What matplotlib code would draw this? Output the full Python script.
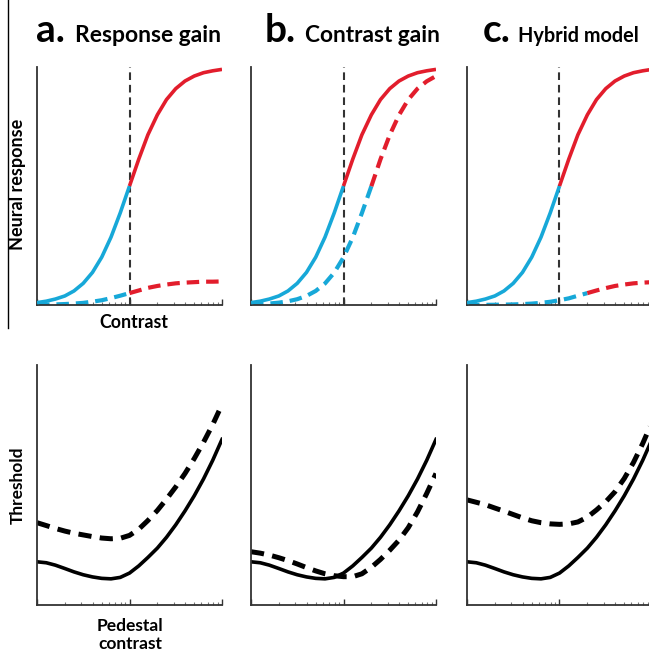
import matplotlib.pyplot as plt
from matplotlib.lines import Line2D

# contraste (eixo x em log, 0.01 a 1)
contrast = [0.01, 0.0126, 0.0158, 0.02, 0.0251, 0.0316, 0.0398, 0.0501, 0.0631, 0.0794,
            0.1, 0.126, 0.158, 0.2, 0.251, 0.316, 0.398, 0.501, 0.631, 0.794, 1.0]
pedestal = 0.1      # linha vertical tracejada
troca_base = 0.1    # contraste onde a cor passa de ciano para vermelho
troca_desloc = 0.2

# resposta neural (linha de cima)
resp_base = [0.010, 0.016, 0.025, 0.038, 0.059, 0.091, 0.137, 0.201, 0.285, 0.387, 0.500,
             0.613, 0.715, 0.799, 0.863, 0.909, 0.941, 0.962, 0.976, 0.984, 0.990]
resp_rgain = [0.001, 0.002, 0.0025, 0.004, 0.006, 0.009, 0.014, 0.020, 0.029, 0.039, 0.050,
              0.061, 0.072, 0.080, 0.086, 0.091, 0.094, 0.096, 0.098, 0.098, 0.099]
resp_cgain = [0.0025, 0.0039, 0.0062, 0.0099, 0.0155, 0.0244, 0.0381, 0.0591, 0.0905, 0.136, 0.200,
              0.284, 0.386, 0.499, 0.612, 0.714, 0.798, 0.863, 0.909, 0.940, 0.962]
resp_hybrid = [0.0003, 0.0004, 0.0006, 0.001, 0.0016, 0.0024, 0.0038, 0.0059, 0.0091, 0.0136, 0.020,
               0.028, 0.039, 0.050, 0.061, 0.071, 0.080, 0.086, 0.091, 0.094, 0.096]

# limiar (linha de baixo)
thr_base = [0.180, 0.176, 0.166, 0.152, 0.138, 0.126, 0.117, 0.111, 0.109, 0.115, 0.133,
            0.163, 0.198, 0.237, 0.282, 0.334, 0.392, 0.455, 0.525, 0.603, 0.690]
thr_rgain = [0.343, 0.331, 0.319, 0.308, 0.299, 0.292, 0.285, 0.279, 0.276, 0.278, 0.290,
             0.316, 0.352, 0.394, 0.441, 0.492, 0.548, 0.610, 0.678, 0.752, 0.835]
thr_cgain = [0.222, 0.216, 0.208, 0.197, 0.185, 0.171, 0.156, 0.142, 0.130, 0.122, 0.118,
             0.118, 0.130, 0.157, 0.190, 0.228, 0.270, 0.322, 0.388, 0.465, 0.548]
thr_hybrid = [0.438, 0.428, 0.418, 0.404, 0.391, 0.377, 0.363, 0.351, 0.343, 0.338, 0.336,
              0.338, 0.346, 0.366, 0.396, 0.430, 0.472, 0.527, 0.594, 0.673, 0.762]

letras = ['a.', 'b.', 'c.']
titulos = ['Response gain', 'Contrast gain', 'Hybrid model']

CIANO = '#17a8d8'
VERMELHO = '#e21d2c'
CINZA = '#333333'

plt.rcParams['font.family'] = ['Lato', 'DejaVu Sans']
plt.rcParams['lines.scale_dashes'] = False

W, H = 649, 657
fig = plt.figure(figsize=(W / 100, H / 100), dpi=100)


def caixa(x0, y_topo, y_base, largura=185):
    return [x0 / W, 1 - y_base / H, largura / W, (y_base - y_topo) / H]


def estilo_eixo(ax, ymax):
    ax.set_xscale('log')
    ax.set_xlim(0.01, 1)
    ax.set_ylim(0, ymax)
    for lado in ['top', 'right']:
        ax.spines[lado].set_visible(False)
    for lado in ['left', 'bottom']:
        ax.spines[lado].set_color(CINZA)
        ax.spines[lado].set_linewidth(1.3)
    ax.set_yticks([])
    ax.tick_params(axis='x', which='major', direction='in', length=4, width=1, color=CINZA, labelbottom=False)
    ax.tick_params(axis='x', which='minor', direction='in', length=2, width=0.8, color='#777777', labelbottom=False)


def curva_colorida(ax, c, r, c_troca, **estilo):
    i = c.index(c_troca)
    ax.plot(c[:i + 1], r[:i + 1], color=CIANO, **estilo)
    ax.plot(c[i:], r[i:], color=VERMELHO, **estilo)


solido = dict(lw=2.6, solid_capstyle='butt', solid_joinstyle='round')
tracejado = dict(lw=3.0, dashes=(9, 5), dash_capstyle='butt')

respostas = [(resp_rgain, troca_base), (resp_cgain, troca_desloc), (resp_hybrid, troca_desloc)]
limiares = [thr_rgain, thr_cgain, thr_hybrid]
esquerdas = [37, 251, 467]

for k in range(3):
    # painel de cima: resposta neural
    ax = fig.add_axes(caixa(esquerdas[k], 67, 305))
    estilo_eixo(ax, 1.0)
    ax.axvline(pedestal, color=CINZA, lw=1.5, dashes=(5.5, 3.5), zorder=1)
    r_tr, c_tr = respostas[k]
    curva_colorida(ax, contrast, r_tr, c_tr, zorder=2, **tracejado)
    curva_colorida(ax, contrast, resp_base, troca_base, zorder=3, **solido)

    # painel de baixo: limiar
    ax2 = fig.add_axes(caixa(esquerdas[k], 365, 605))
    estilo_eixo(ax2, 1.0)
    ax2.plot(contrast, thr_base, color='black', lw=2.6, solid_joinstyle='round')
    ax2.plot(contrast, limiares[k], color='black', lw=3.6, dashes=(9.5, 6), dash_capstyle='butt')

# titulos
pos_letra = [36, 265, 483]
pos_titulo = [75, 305, 518]
tam_titulo = [16.5, 16.3, 14.3]
for k in range(3):
    fig.text(pos_letra[k] / W, 1 - 42 / H, letras[k], fontsize=28, fontweight='bold', va='baseline')
    fig.text(pos_titulo[k] / W, 1 - 42 / H, titulos[k], fontsize=tam_titulo[k], fontweight='bold', va='baseline')

# rotulos dos eixos
fig.text(18 / W, 1 - 184 / H, 'Neural response', rotation=90, fontsize=13, fontweight='bold',
         ha='center', va='center')
fig.text(134 / W, 1 - 323 / H, 'Contrast', fontsize=12.8, fontweight='bold', ha='center', va='center')
fig.text(18 / W, 1 - 485 / H, 'Threshold', rotation=90, fontsize=12.5, fontweight='bold',
         ha='center', va='center')
fig.text(130 / W, 1 - 635 / H, 'Pedestal\ncontrast', fontsize=12.5, fontweight='bold',
         ha='center', va='center', linespacing=1.1)

# linha vertical na borda esquerda da figura
fig.add_artist(Line2D([8 / W, 8 / W], [1, 1 - 328 / H], color='black', lw=1.0))

fig.savefig('out.png', dpi=100)
